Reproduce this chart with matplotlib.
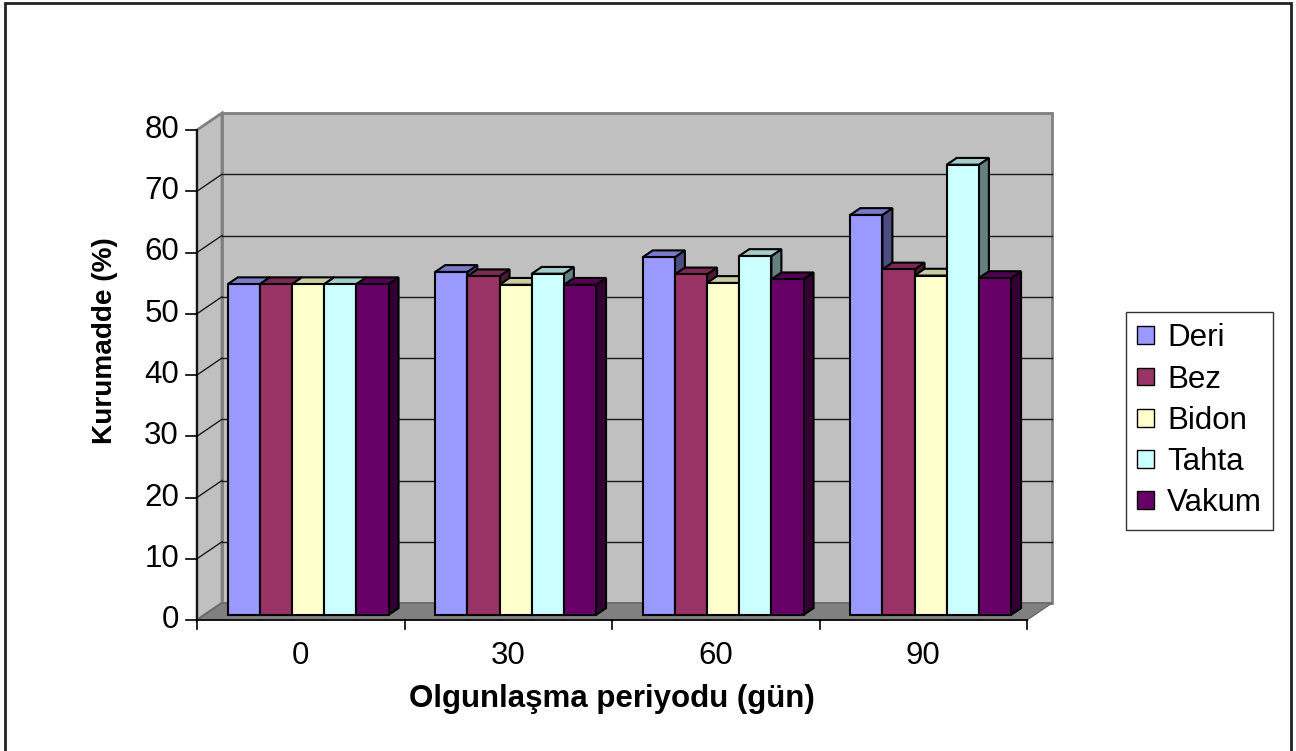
import matplotlib.pyplot as plt
from matplotlib.patches import Polygon, Rectangle, Patch

plt.rcParams['font.family'] = ['Liberation Sans', 'DejaVu Sans']

periods = ['0', '30', '60', '90']
series = ['Deri', 'Bez', 'Bidon', 'Tahta', 'Vakum']
deri = [54.0, 56.0, 58.4, 65.3]
bez = [54.0, 55.3, 55.6, 56.4]
bidon = [54.0, 53.9, 54.2, 55.4]
tahta = [54.0, 55.7, 58.6, 73.5]
vakum = [54.0, 53.9, 54.8, 55.0]
values = [deri, bez, bidon, tahta, vakum]
colors = ['#9999FF', '#993366', '#FFFFCC', '#CCFFFF', '#660066']
yticks = list(range(0, 90, 10))


def shade(c, k):
    c = c.lstrip('#')
    return tuple(int(c[i:i + 2], 16) / 255 * k for i in (0, 2, 4))


# pixel layout of the fake 3d box
W, H = 1296, 751
x0, y0 = 197, 620          # front origin (px from left / top)
gpx, upx = 207.5, 6.125    # px per category, px per value unit
DX, DY = 25 / gpx, 17 / upx
ymax = 80
ng = len(periods)

fig = plt.figure(figsize=(W / 100, H / 100), dpi=100)
ax = fig.add_axes([0, 0, 1, 1])
ax.set_xlim(-x0 / gpx, (W - x0) / gpx)
ax.set_ylim(-(H - y0) / upx, y0 / upx)
ax.axis('off')

wall = '#C0C0C0'
edge = '#808080'
ax.add_patch(Polygon([(0, 0), (DX, DY), (DX, ymax + DY), (0, ymax)],
                     fc=wall, ec=edge, lw=2, zorder=1))
ax.add_patch(Rectangle((DX, DY), ng, ymax, fc=wall, ec=edge, lw=2, zorder=1))
for v in yticks[1:-1]:
    ax.plot([DX, ng + DX], [v + DY, v + DY], color='#1a1a1a', lw=1, zorder=2)
    ax.plot([0, DX], [v, v + DY], color='#1a1a1a', lw=1, zorder=2)
ax.add_patch(Polygon([(0, 0), (ng, 0), (ng + DX, DY), (DX, DY)],
                     fc=edge, ec='#666666', lw=1, zorder=2))

# bars
bw, start = 0.155, 0.112
f0, f1 = 0.3, 0.7
ddx, ddy = (f1 - f0) * DX, (f1 - f0) * DY
z = 3
for g in range(ng):
    for s, vals in enumerate(values):
        left = g + start + s * bw + f0 * DX
        bot = f0 * DY
        top = bot + vals[g]
        c = colors[s]
        ax.add_patch(Polygon([(left + bw, bot), (left + bw + ddx, bot + ddy),
                              (left + bw + ddx, top + ddy), (left + bw, top)],
                             fc=shade(c, 0.5), ec='black', lw=1.5, zorder=z))
        ax.add_patch(Polygon([(left, top), (left + bw, top),
                              (left + bw + ddx, top + ddy), (left + ddx, top + ddy)],
                             fc=shade(c, 0.8), ec='black', lw=1.5, zorder=z))
        ax.add_patch(Rectangle((left, bot), bw, vals[g], fc=c, ec='black',
                               lw=1.5, zorder=z))
        z += 1

# axes lines and ticks
ax.plot([0, 0], [0, ymax], color='black', lw=1.2, zorder=z)
ax.plot([0, ng], [0, 0], color='black', lw=1.2, zorder=z)
for v in yticks:
    ax.plot([-11 / gpx, 0], [v, v], color='black', lw=1.2, zorder=z)
    ax.text(-18 / gpx, v, str(v), ha='right', va='center', fontsize=22.5)
for i in range(ng + 1):
    ax.plot([i, i], [0, -9 / upx], color='black', lw=1.2, zorder=z)
for i, p in enumerate(periods):
    ax.text(i + 0.5, -36 / upx, p, ha='center', va='center', fontsize=22.5)

ax.text((612 - x0) / gpx, -(699 - y0) / upx, 'Olgunlaşma periyodu (gün)',
        ha='center', va='center', fontsize=22.5, fontweight='bold')
ax.text((105 - x0) / gpx, (y0 - 341) / upx, 'Kurumadde (%)', rotation=90,
        ha='center', va='center', fontsize=20.2, fontweight='bold')

handles = [Patch(fc=c, ec='black', lw=1) for c in colors]
leg = fig.legend(handles, series, loc='upper left',
                 bbox_to_anchor=(1126 / W, 1 - 312 / H), borderaxespad=0,
                 fontsize=22.5, handlelength=0.55, handleheight=0.5,
                 handletextpad=0.4, labelspacing=0.36, borderpad=0.36,
                 frameon=True, fancybox=False, edgecolor='black')
leg.get_frame().set_linewidth(1)

fig.add_artist(Rectangle((5 / W, -10 / H), 1286 / W, 758 / H, transform=fig.transFigure,
                         fill=False, ec='#222222', lw=2))

fig.savefig('out.png', dpi=100)
